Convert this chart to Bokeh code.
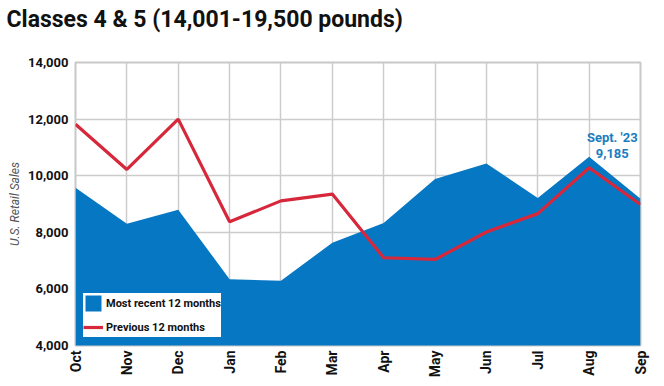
from bokeh.plotting import figure
from bokeh.models import ColumnDataSource, Legend, LegendItem, Label, FixedTicker, NumeralTickFormatter, Range1d, Title
from bokeh.embed import file_html
from bokeh.resources import INLINE
import math

months = ["Oct", "Nov", "Dec", "Jan", "Feb", "Mar", "Apr", "May", "Jun", "Jul", "Aug", "Sep"]
recent = [9570, 8300, 8800, 6340, 6290, 7630, 8330, 9880, 10430, 9215, 10670, 9185]
previous = [11820, 10220, 12000, 8370, 9110, 9350, 7100, 7040, 8010, 8660, 10280, 8980]
y_ticks = [4000, 6000, 8000, 10000, 12000, 14000]

FONT = "Roboto"
BLUE = "#0677c3"
RED = "#d6283a"

idx = list(range(len(months)))
src = ColumnDataSource(dict(x=idx, recent=recent, previous=previous, base=[0] * len(idx)))

p = figure(width=664, height=386, output_backend="svg", toolbar_location=None,
           x_range=Range1d(0, len(months) - 1), y_range=Range1d(y_ticks[0], y_ticks[-1]),
           min_border_left=75, min_border_right=24, min_border_top=62, min_border_bottom=41)

p.title = Title(text="Classes 4 & 5 (14,001-19,500 pounds)", align="left", vertical_align="bottom",
                text_font=FONT, text_font_size="23px", text_font_style="bold",
                text_color="#111111", offset=-69, standoff=0)
# spacer between title and plot frame
p.add_layout(Title(text=" ", text_font_size="10px", standoff=17), "above")

p.outline_line_color = "#c8c8c8"
p.outline_line_width = 2
p.background_fill_color = "white"
p.border_fill_color = "white"

area = p.varea(x="x", y1="base", y2="recent", source=src, fill_color=BLUE)
line = p.line(x="x", y="previous", source=src, line_color=RED, line_width=3.2)

# axes
p.xaxis.ticker = FixedTicker(ticks=idx)
p.xaxis.major_label_overrides = {i: m for i, m in enumerate(months)}
p.xaxis.major_label_orientation = math.pi / 2
p.xaxis.major_label_text_font = FONT
p.xaxis.major_label_text_font_style = "bold"
p.xaxis.major_label_text_font_size = "14px"
p.xaxis.major_label_text_color = "#111111"
p.xaxis.major_label_standoff = 5

p.yaxis.ticker = FixedTicker(ticks=y_ticks)
p.yaxis.formatter = NumeralTickFormatter(format="0,0")
p.yaxis.major_label_text_font = FONT
p.yaxis.major_label_text_font_style = "bold"
p.yaxis.major_label_text_font_size = "13px"
p.yaxis.major_label_text_color = "#111111"
p.yaxis.major_label_standoff = 7
p.yaxis.axis_label = "U.S. Retail Sales"
p.yaxis.axis_label_text_font = FONT
p.yaxis.axis_label_text_font_style = "italic"
p.yaxis.axis_label_text_font_size = "12px"
p.yaxis.axis_label_text_color = "#555555"
p.yaxis.axis_label_standoff = 3

for ax in (p.xaxis, p.yaxis):
    ax.axis_line_color = None
    ax.major_tick_line_color = None
    ax.minor_tick_line_color = None
    ax.major_tick_out = 0
    ax.major_tick_in = 0
    ax.minor_tick_out = 0
    ax.minor_tick_in = 0

p.xgrid.ticker = FixedTicker(ticks=idx)
p.ygrid.ticker = FixedTicker(ticks=y_ticks)
p.grid.grid_line_color = "#cccccc"
p.grid.grid_line_width = 1.5

# annotation for latest value
p.add_layout(Label(x=10.45, y=11360, text="Sept. '23", text_align="center", text_baseline="middle",
                   text_font=FONT, text_font_size="13px", text_color="#1a7dbf", text_font_style="bold"))
p.add_layout(Label(x=10.45, y=10800, text="{:,}".format(recent[-1]), text_align="center",
                   text_baseline="middle", text_font=FONT, text_font_size="13px",
                   text_color="#1a7dbf", text_font_style="bold"))

legend = Legend(items=[LegendItem(label="Most recent 12 months", renderers=[area]),
                       LegendItem(label="Previous 12 months", renderers=[line])],
                location=(8, 8), background_fill_color="white", background_fill_alpha=1,
                border_line_color=None, label_text_font=FONT, label_text_font_style="bold",
                label_text_font_size="11px", label_text_color="#111111",
                glyph_width=20, glyph_height=20, label_standoff=3, padding=4, spacing=4, margin=0)
p.add_layout(legend, "center")

open("out.html", "w").write(file_html(p, INLINE))
